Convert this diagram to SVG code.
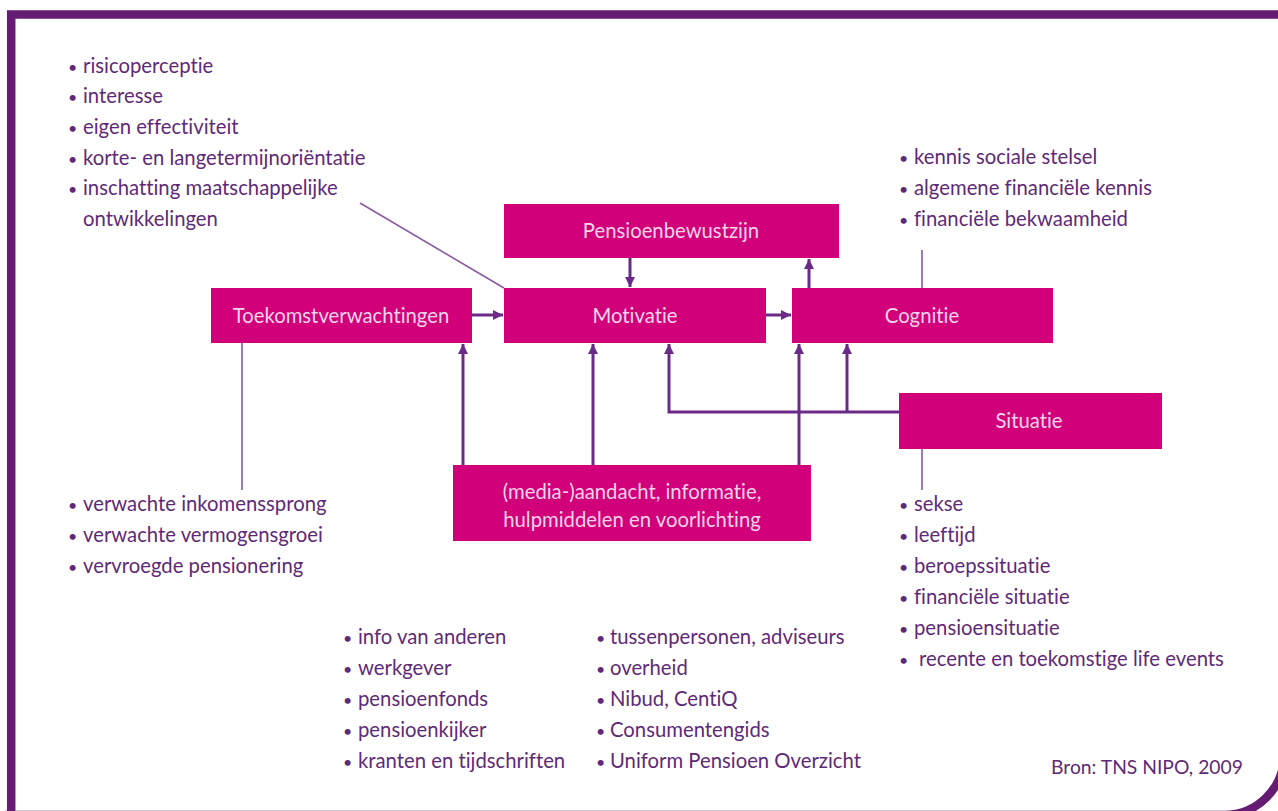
<svg xmlns="http://www.w3.org/2000/svg" width="1278" height="811" viewBox="0 0 1278 811">
  <style>
    .box { fill: #d1007a; }
    .boxtext { font-family: Lato, "Open Sans", sans-serif; font-size: 20.3px; fill: #f7d4e9; text-anchor: middle; font-variant-ligatures: none; }
    .list { font-family: Lato, "Open Sans", sans-serif; font-size: 20.3px; fill: #5e2a78; font-variant-ligatures: none; }
    .dot { font-size: 16px; }
    .arrow { fill: none; stroke: #6a2a87; stroke-width: 3; marker-end: url(#head); }
    .thin { fill: none; stroke: #8b5aa3; stroke-width: 1.6; }
    .frame { fill: none; stroke: #651c73; stroke-width: 8.5; }
  </style>
  <defs>
    <marker id="head" markerUnits="userSpaceOnUse" markerWidth="11" markerHeight="11" refX="10" refY="5.5" orient="auto">
      <path d="M0,0.5 L10,5.5 L0,10.5 z" fill="#6a2a87"/>
    </marker>
  </defs>

  <rect width="1278" height="811" fill="#ffffff"/>

  <!-- outer frame with rounded lower-right corner -->
  <path class="frame" d="M11.2,820 V14.5 H1290 M1284,700 V755 A60,60 0 0 1 1224,815 H5"/>

  <!-- connectors -->
  <g id="connectors">
    <path class="arrow" d="M472,315 H503"/>
    <path class="arrow" d="M766,315 H791"/>
    <path class="arrow" d="M630,258 V287"/>
    <path class="arrow" d="M809,288 V259"/>
    <path class="arrow" d="M463,465 V344"/>
    <path class="arrow" d="M593,465 V344"/>
    <path class="arrow" d="M799,465 V344"/>
    <path class="arrow" d="M899,412 H669 V344"/>
    <path class="arrow" d="M847,412 V344"/>
    <path class="thin" d="M360,203 L504,288"/>
    <path class="thin" d="M242,343 V490"/>
    <path class="thin" d="M922,250 V288"/>
    <path class="thin" d="M922,449 V490"/>
  </g>

  <g id="pensioenbewustzijn">
    <rect class="box" x="504" y="204" width="335" height="54"/>
    <text class="boxtext" x="671" y="238">Pensioenbewustzijn</text>
  </g>
  <g id="toekomstverwachtingen">
    <rect class="box" x="211" y="288" width="261" height="55"/>
    <text class="boxtext" x="341" y="323">Toekomstverwachtingen</text>
  </g>
  <g id="motivatie">
    <rect class="box" x="504" y="288" width="262" height="55"/>
    <text class="boxtext" x="635" y="323">Motivatie</text>
  </g>
  <g id="cognitie">
    <rect class="box" x="792" y="288" width="261" height="55"/>
    <text class="boxtext" x="922" y="323">Cognitie</text>
  </g>
  <g id="situatie">
    <rect class="box" x="899" y="393" width="263" height="56"/>
    <text class="boxtext" x="1029" y="428">Situatie</text>
  </g>
  <g id="media">
    <rect class="box" x="453" y="465" width="358" height="76"/>
    <text class="boxtext" x="632" y="499">(media-)aandacht, informatie,</text>
    <text class="boxtext" x="632" y="527">hulpmiddelen en voorlichting</text>
  </g>

  <g id="motivatie-factoren" class="list">
    <text y="73"><tspan class="dot" x="68">•</tspan><tspan x="83">risicoperceptie</tspan></text>
    <text y="103"><tspan class="dot" x="68">•</tspan><tspan x="83">interesse</tspan></text>
    <text y="134"><tspan class="dot" x="68">•</tspan><tspan x="83">eigen effectiviteit</tspan></text>
    <text y="165"><tspan class="dot" x="68">•</tspan><tspan x="83">korte- en langetermijnoriëntatie</tspan></text>
    <text y="195"><tspan class="dot" x="68">•</tspan><tspan x="83">inschatting maatschappelijke</tspan></text>
    <text y="226" x="83">ontwikkelingen</text>
  </g>

  <g id="cognitie-factoren" class="list">
    <text y="164"><tspan class="dot" x="899">•</tspan><tspan x="914">kennis sociale stelsel</tspan></text>
    <text y="195"><tspan class="dot" x="899">•</tspan><tspan x="914">algemene financiële kennis</tspan></text>
    <text y="226"><tspan class="dot" x="899">•</tspan><tspan x="914">financiële bekwaamheid</tspan></text>
  </g>

  <g id="toekomst-factoren" class="list">
    <text y="511"><tspan class="dot" x="68">•</tspan><tspan x="83">verwachte inkomenssprong</tspan></text>
    <text y="542"><tspan class="dot" x="68">•</tspan><tspan x="83">verwachte vermogensgroei</tspan></text>
    <text y="573"><tspan class="dot" x="68">•</tspan><tspan x="83">vervroegde pensionering</tspan></text>
  </g>

  <g id="situatie-factoren" class="list">
    <text y="511"><tspan class="dot" x="899">•</tspan><tspan x="914">sekse</tspan></text>
    <text y="542"><tspan class="dot" x="899">•</tspan><tspan x="914">leeftijd</tspan></text>
    <text y="573"><tspan class="dot" x="899">•</tspan><tspan x="914">beroepssituatie</tspan></text>
    <text y="604"><tspan class="dot" x="899">•</tspan><tspan x="914">financiële situatie</tspan></text>
    <text y="635"><tspan class="dot" x="899">•</tspan><tspan x="914">pensioensituatie</tspan></text>
    <text y="666"><tspan class="dot" x="899">•</tspan><tspan x="919">recente en toekomstige life events</tspan></text>
  </g>

  <g id="bronnen-1" class="list">
    <text y="644"><tspan class="dot" x="343">•</tspan><tspan x="358">info van anderen</tspan></text>
    <text y="675"><tspan class="dot" x="343">•</tspan><tspan x="358">werkgever</tspan></text>
    <text y="706"><tspan class="dot" x="343">•</tspan><tspan x="358">pensioenfonds</tspan></text>
    <text y="737"><tspan class="dot" x="343">•</tspan><tspan x="358">pensioenkijker</tspan></text>
    <text y="768"><tspan class="dot" x="343">•</tspan><tspan x="358">kranten en tijdschriften</tspan></text>
  </g>

  <g id="bronnen-2" class="list">
    <text y="644"><tspan class="dot" x="596">•</tspan><tspan x="610">tussenpersonen, adviseurs</tspan></text>
    <text y="675"><tspan class="dot" x="596">•</tspan><tspan x="610">overheid</tspan></text>
    <text y="706"><tspan class="dot" x="596">•</tspan><tspan x="610">Nibud, CentiQ</tspan></text>
    <text y="737"><tspan class="dot" x="596">•</tspan><tspan x="610">Consumentengids</tspan></text>
    <text y="768"><tspan class="dot" x="596">•</tspan><tspan x="610">Uniform Pensioen Overzicht</tspan></text>
  </g>

  <text class="list" x="1051" y="774" style="font-size:19.3px">Bron: TNS NIPO, 2009</text>
</svg>
